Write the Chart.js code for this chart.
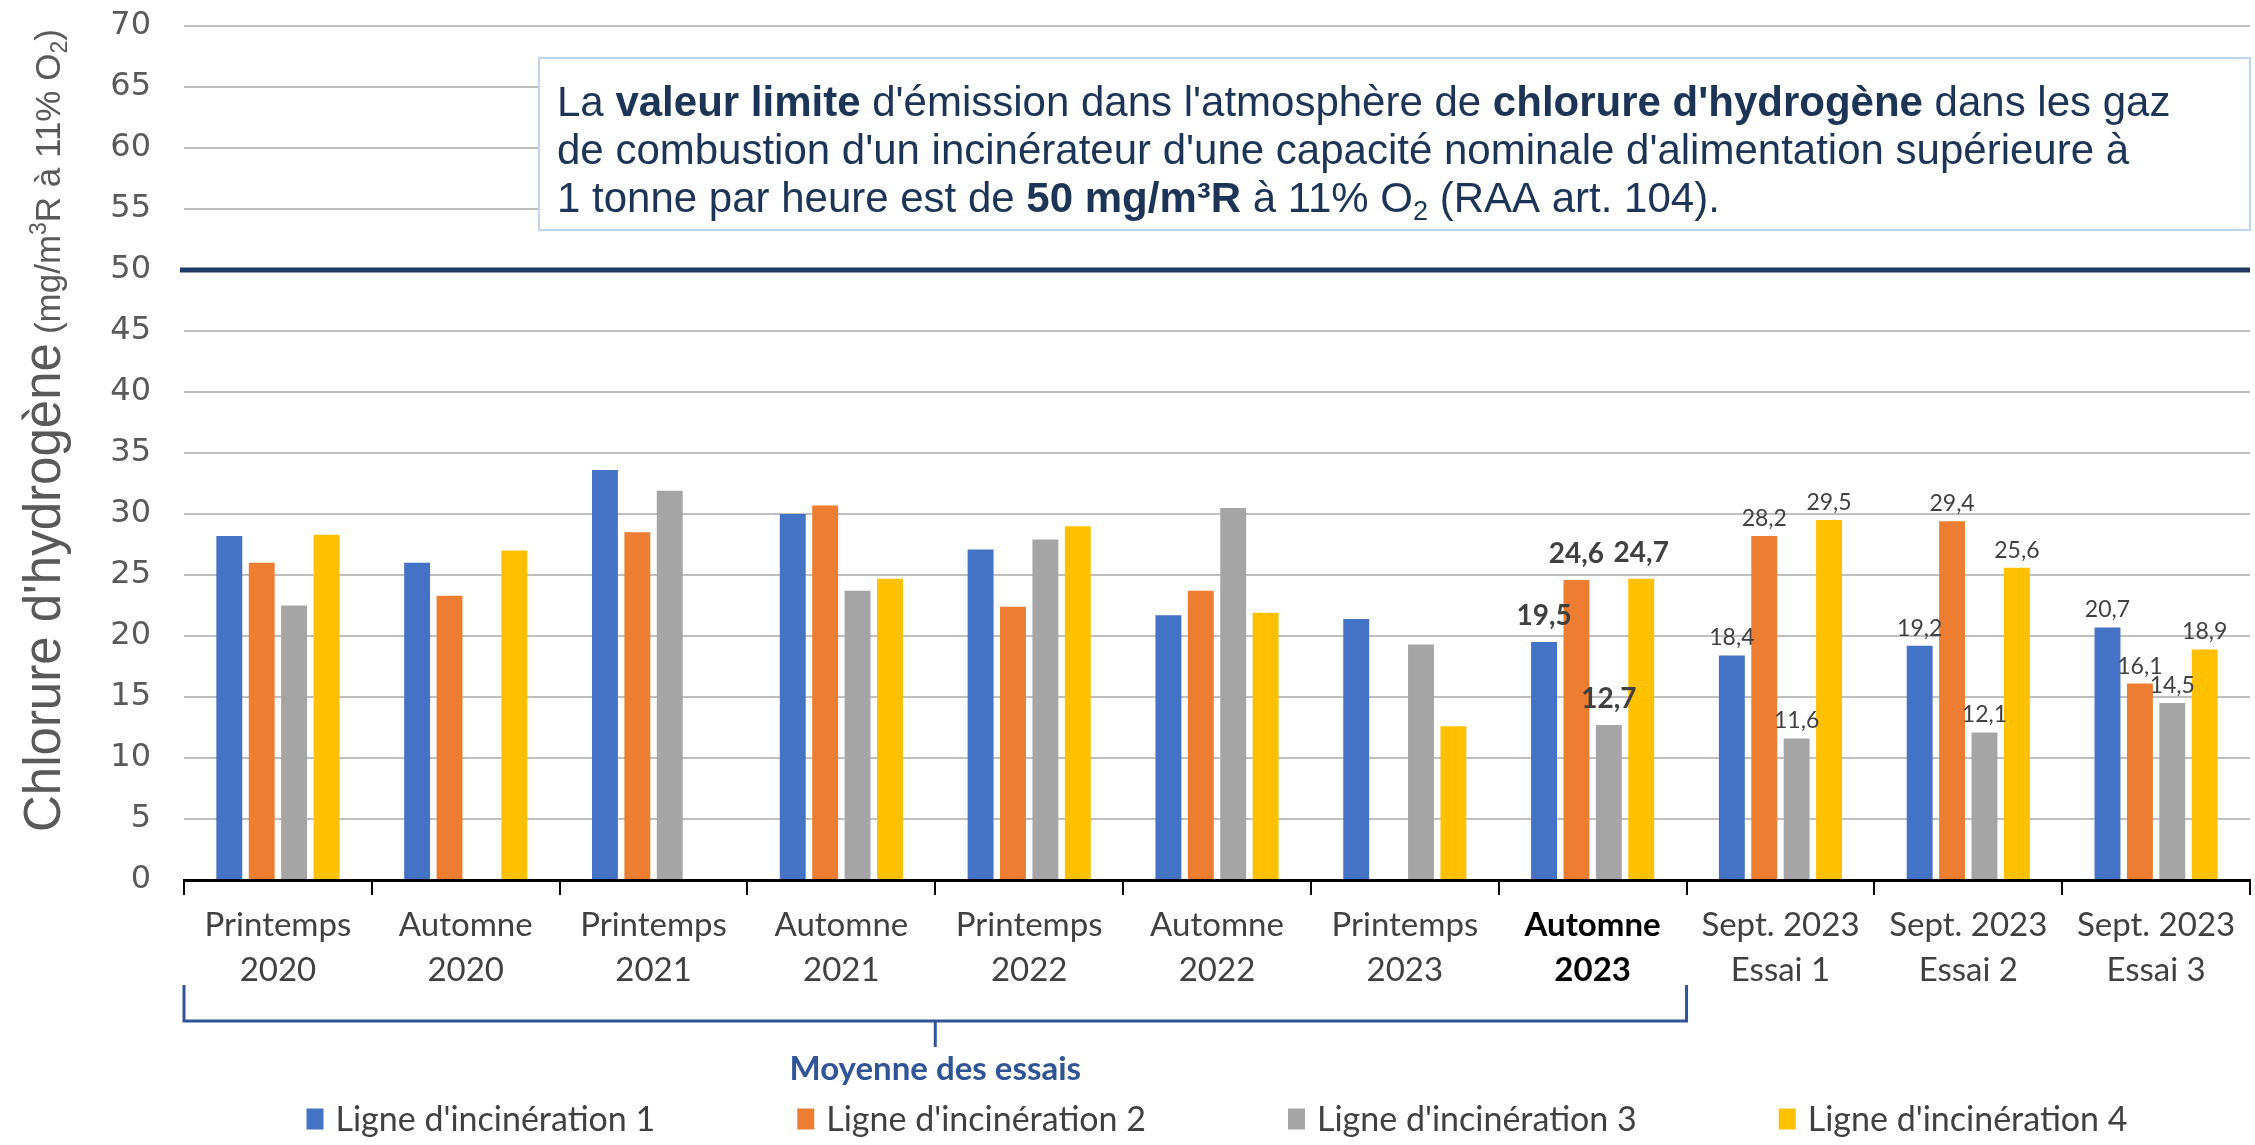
<!DOCTYPE html>
<html>
<head>
<meta charset="utf-8">
<script src="https://cdn.jsdelivr.net/npm/chart.js@4.4.1/dist/chart.umd.min.js"></script>
<style>
  html, body { margin: 0; padding: 0; background: #fff; }
</style>
</head>
<body>
<canvas id="myChart" width="2255" height="1145"></canvas>
<script>
// categories (two-line labels)
const categories = [
  ['Printemps', '2020'], ['Automne', '2020'], ['Printemps', '2021'], ['Automne', '2021'],
  ['Printemps', '2022'], ['Automne', '2022'], ['Printemps', '2023'], ['Automne', '2023'],
  ['Sept. 2023', 'Essai 1'], ['Sept. 2023', 'Essai 2'], ['Sept. 2023', 'Essai 3']
];

// mg/m3R a 11% O2
const ligne1 = [28.2, 26.0, 33.6, 30.0, 27.1, 21.7, 21.4, 19.5, 18.4, 19.2, 20.7];
const ligne2 = [26.0, 23.3, 28.5, 30.7, 22.4, 23.7, null, 24.6, 28.2, 29.4, 16.1];
const ligne3 = [22.5, null, 31.9, 23.7, 27.9, 30.5, 19.3, 12.7, 11.6, 12.1, 14.5];
const ligne4 = [28.3, 27.0, null, 24.7, 29.0, 21.9, 12.6, 24.7, 29.5, 25.6, 18.9];

const seriesNames = ["Ligne d'incinération 1", "Ligne d'incinération 2", "Ligne d'incinération 3", "Ligne d'incinération 4"];
const seriesColors = ['#4472c4', '#ed7d31', '#a5a5a5', '#ffc000'];

const yMin = 0, yMax = 70, yStep = 5;
const limitValue = 50;
const boldIndex = 7;               // Automne 2023
const labelledIndexes = [7, 8, 9, 10];
const lastAverageIndex = 7;        // bracket "Moyenne des essais" covers 0..7

const fmt = v => v.toFixed(1).replace('.', ',');

// horizontal limit line at 50
const limitLine = {
  id: 'limitLine',
  afterDatasetsDraw(chart) {
    const { ctx, chartArea, scales } = chart;
    const y = scales.y.getPixelForValue(limitValue);
    ctx.save();
    ctx.strokeStyle = '#1f3864';
    ctx.lineWidth = 5;
    ctx.beginPath();
    ctx.moveTo(chartArea.left - 4, y);
    ctx.lineTo(chartArea.right, y);
    ctx.stroke();
    ctx.restore();
  }
};

// value labels above bars for the last groups
const valueLabels = {
  id: 'valueLabels',
  afterDatasetsDraw(chart) {
    const ctx = chart.ctx;
    ctx.save();
    ctx.textAlign = 'center';
    ctx.textBaseline = 'bottom';
    chart.data.datasets.forEach((ds, di) => {
      const meta = chart.getDatasetMeta(di);
      labelledIndexes.forEach(i => {
        const v = ds.data[i];
        if (v == null) return;
        const bar = meta.data[i];
        const bold = i === boldIndex;
        ctx.font = bold ? 'bold 28px Lato' : '23px Lato';
        ctx.fillStyle = '#404040';
        ctx.fillText(fmt(v), bar.x, bar.y - (bold ? 12 : 6));
      });
    });
    ctx.restore();
  }
};

// rotated y title with mixed sizes
const yTitle = {
  id: 'yTitle',
  afterDraw(chart) {
    const ctx = chart.ctx;
    ctx.save();
    ctx.translate(60, 832);
    ctx.rotate(-Math.PI / 2);
    ctx.fillStyle = '#595959';
    ctx.textBaseline = 'alphabetic';
    ctx.textAlign = 'left';
    let x = 0;
    const put = (t, font, dy) => {
      ctx.font = font;
      ctx.fillText(t, x, dy || 0);
      x += ctx.measureText(t).width;
    };
    put("Chlorure d'hydrogène", '51px "Liberation Sans", Arial');
    x += 9;
    put('(mg/m', '35px "Liberation Sans", Arial');
    put('3', '23px "Liberation Sans", Arial', -14);
    put('R à 11% O', '35px "Liberation Sans", Arial');
    put('2', '23px "Liberation Sans", Arial', 7);
    put(')', '35px "Liberation Sans", Arial');
    ctx.restore();
  }
};

// note box
const noteLines = [
  [['La ', 0], ['valeur limite', 1], [" d'émission dans l'atmosphère de ", 0], ["chlorure d'hydrogène", 1], [' dans les gaz', 0]],
  [["de combustion d'un incinérateur d'une capacité nominale d'alimentation supérieure à", 0]],
  [['1 tonne par heure est de ', 0], ['50 mg/m³R', 1], [' à 11% O', 0], ['2', 2], [' (RAA art. 104).', 0]]
];
const noteBox = {
  id: 'noteBox',
  afterDraw(chart) {
    const ctx = chart.ctx;
    ctx.save();
    ctx.fillStyle = '#ffffff';
    ctx.fillRect(539, 58, 1711, 172);
    ctx.strokeStyle = '#bdd7ee';
    ctx.lineWidth = 2;
    ctx.strokeRect(539, 58, 1711, 172);
    ctx.fillStyle = '#1c3557';
    ctx.textBaseline = 'alphabetic';
    noteLines.forEach((line, li) => {
      let x = 557;
      const y = 116 + li * 48;
      line.forEach(([t, kind]) => {
        let dy = 0;
        if (kind === 1) ctx.font = 'bold 42px "Liberation Sans", Arial';
        else if (kind === 2) { ctx.font = '27px "Liberation Sans", Arial'; dy = 8; }
        else ctx.font = '42px "Liberation Sans", Arial';
        ctx.fillText(t, x, y + dy);
        x += ctx.measureText(t).width;
      });
    });
    ctx.restore();
  }
};

// bracket under the averaged campaigns
const bracket = {
  id: 'bracket',
  afterDraw(chart) {
    const { ctx, chartArea, scales } = chart;
    const xs = scales.x;
    const left = chartArea.left;
    const right = (xs.getPixelForValue(lastAverageIndex) + xs.getPixelForValue(lastAverageIndex + 1)) / 2;
    const mid = (left + right) / 2;
    const yLine = 1021;
    ctx.save();
    ctx.strokeStyle = '#2f5597';
    ctx.lineWidth = 3;
    ctx.beginPath();
    ctx.moveTo(left, 985);
    ctx.lineTo(left, yLine);
    ctx.lineTo(right, yLine);
    ctx.lineTo(right, 985);
    ctx.moveTo(mid, yLine);
    ctx.lineTo(mid, 1047);
    ctx.stroke();
    ctx.fillStyle = '#2f5597';
    ctx.font = 'bold 33px Lato';
    ctx.textAlign = 'center';
    ctx.textBaseline = 'middle';
    ctx.fillText('Moyenne des essais', mid, 1069);
    ctx.restore();
  }
};

// legend drawn at the bottom, centred on the plot area
const bottomLegend = {
  id: 'bottomLegend',
  afterDraw(chart) {
    const { ctx, chartArea } = chart;
    const boxW = 17, boxH = 21, gapBox = 12, gapItem = 142;
    const y = 1119;
    ctx.save();
    ctx.font = '34px Lato';
    const items = chart.data.datasets.map(ds => ({
      label: ds.label, color: ds.backgroundColor, w: boxW + gapBox + ctx.measureText(ds.label).width
    }));
    const total = items.reduce((s, it) => s + it.w, 0) + gapItem * (items.length - 1);
    let x = (chartArea.left + chartArea.right) / 2 - total / 2;
    ctx.textBaseline = 'middle';
    items.forEach(it => {
      ctx.fillStyle = it.color;
      ctx.fillRect(x, y - boxH / 2, boxW, boxH);
      ctx.fillStyle = '#404040';
      ctx.fillText(it.label, x + boxW + gapBox, y + 1);
      x += it.w + gapItem;
    });
    ctx.restore();
  }
};

const ctx = document.getElementById('myChart').getContext('2d');
const seriesData = [ligne1, ligne2, ligne3, ligne4];

new Chart(ctx, {
  type: 'bar',
  data: {
    labels: categories,
    datasets: seriesData.map((d, i) => ({
      label: seriesNames[i],
      data: d,
      backgroundColor: seriesColors[i],
      categoryPercentage: 0.69,
      barPercentage: 0.8
    }))
  },
  options: {
    responsive: false,
    animation: false,
    devicePixelRatio: 1,
    layout: { padding: { top: 26, right: 5, left: 0, bottom: 0 } },
    plugins: {
      legend: { display: false },
      tooltip: { enabled: false }
    },
    scales: {
      x: {
        grid: { drawOnChartArea: false, color: '#000', lineWidth: 2, tickLength: 15, offset: true },
        border: { color: '#000', width: 3 },
        ticks: {
          autoSkip: false,
          maxRotation: 0,
          padding: 8,
          color: c => c.index === boldIndex ? '#000' : '#404040',
          font: c => ({ family: 'Lato', size: 33, weight: c.index === boldIndex ? 'bold' : 'normal', lineHeight: 1.36 })
        },
        afterFit: s => { s.height = 265; }
      },
      y: {
        min: yMin,
        max: yMax,
        ticks: { stepSize: yStep, padding: 33, color: '#595959', font: { family: 'DejaVu Sans', size: 32 } },
        grid: { color: '#bfbfbf', lineWidth: 2, drawTicks: false },
        border: { display: false },
        afterFit: s => { s.width = 184; s.paddingTop = 0; s.paddingBottom = 0; }
      }
    }
  },
  plugins: [limitLine, valueLabels, yTitle, noteBox, bracket, bottomLegend]
});
</script>
</body>
</html>
